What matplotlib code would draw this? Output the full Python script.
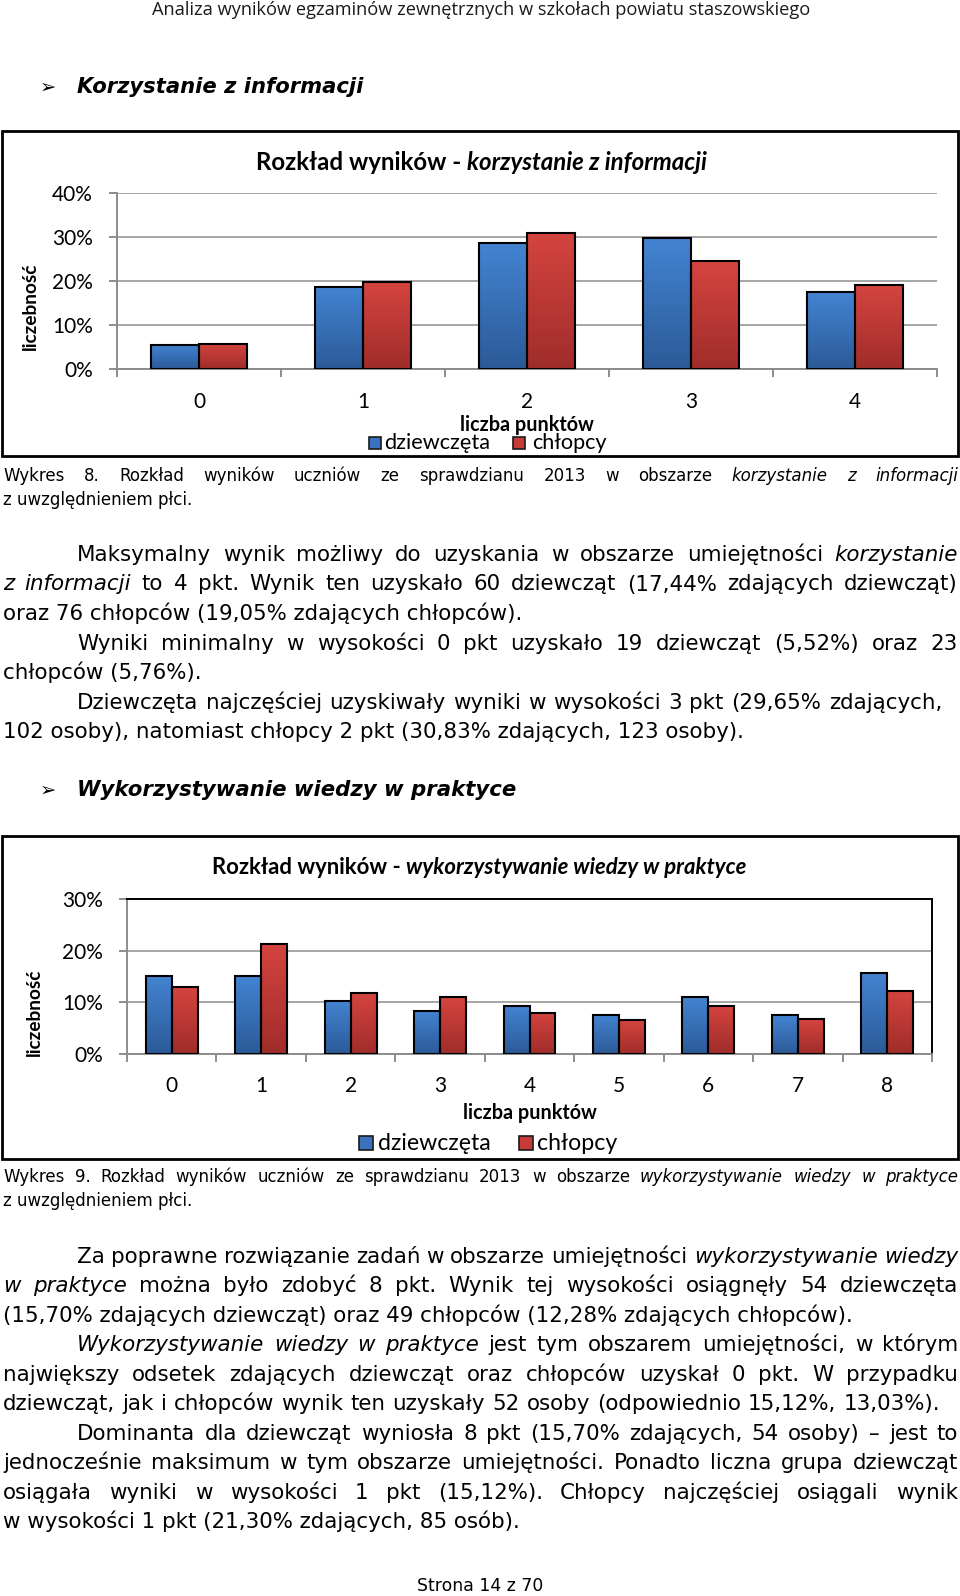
import numpy as np
import matplotlib
matplotlib.use('Agg')
import matplotlib.pyplot as plt
from matplotlib.font_manager import FontProperties
from matplotlib.patches import Rectangle
from matplotlib.colors import LinearSegmentedColormap

# ---------------- data ----------------
points1 = ['0', '1', '2', '3', '4']
girls1 = [5.52, 18.66, 28.7, 29.65, 17.44]
boys1 = [5.76, 19.8, 30.83, 24.5, 19.05]

points2 = ['0', '1', '2', '3', '4', '5', '6', '7', '8']
girls2 = [15.12, 15.12, 10.2, 8.4, 9.3, 7.6, 11.1, 7.5, 15.70]
boys2 = [13.03, 21.30, 11.8, 11.0, 8.0, 6.5, 9.3, 6.7, 12.28]

series_names = ['dziewczęta', 'chłopcy']
yticks1 = ['0%', '10%', '20%', '30%', '40%']
yticks2 = ['0%', '10%', '20%', '30%']
y_label = 'liczebność'
x_label = 'liczba punktów'
title1 = ('Rozkład wyników - ', 'korzystanie z informacji')
title2 = ('Rozkład wyników - ', 'wykorzystywanie wiedzy w praktyce')

header = 'Analiza wyników egzaminów zewnętrznych w szkołach powiatu staszowskiego'
heading1 = 'Korzystanie z informacji'
heading2 = 'Wykorzystywanie wiedzy w praktyce'
footer = 'Strona 14 z 70'

caption1 = [
    [('Wykres 8. Rozkład wyników uczniów ze sprawdzianu 2013 w obszarze ', False),
     ('korzystanie z informacji', True)],
    [('z uwzględnieniem płci.', False)],
]
para1 = [
    [('Maksymalny wynik możliwy do uzyskania w obszarze umiejętności ', False), ('korzystanie', True)],
    [('z informacji', True), (' to 4 pkt. Wynik ten uzyskało 60 dziewcząt (17,44% zdających dziewcząt)', False)],
    [('oraz 76 chłopców (19,05% zdających chłopców).', False)],
    [('Wyniki minimalny w wysokości 0 pkt uzyskało 19 dziewcząt (5,52%) oraz 23', False)],
    [('chłopców (5,76%).', False)],
    [('Dziewczęta najczęściej uzyskiwały wyniki w wysokości 3 pkt (29,65%  zdających,', False)],
    [('102 osoby), natomiast chłopcy 2 pkt (30,83% zdających, 123 osoby).', False)],
]
caption2 = [
    [('Wykres 9. Rozkład wyników uczniów ze sprawdzianu 2013 w obszarze ', False),
     ('wykorzystywanie wiedzy w praktyce', True)],
    [('z uwzględnieniem płci.', False)],
]
para2 = [
    [('Za poprawne rozwiązanie zadań w obszarze umiejętności ', False), ('wykorzystywanie wiedzy', True)],
    [('w praktyce', True), (' można było zdobyć 8 pkt. Wynik tej wysokości osiągnęły 54 dziewczęta', False)],
    [('(15,70% zdających dziewcząt) oraz 49 chłopców (12,28% zdających chłopców).', False)],
    [('Wykorzystywanie wiedzy w praktyce', True), (' jest tym obszarem umiejętności, w którym', False)],
    [('największy odsetek zdających dziewcząt oraz chłopców uzyskał 0 pkt. W przypadku', False)],
    [('dziewcząt, jak i chłopców wynik ten uzyskały 52 osoby (odpowiednio 15,12%, 13,03%).', False)],
    [('Dominanta dla dziewcząt wyniosła 8 pkt (15,70% zdających, 54 osoby) – jest to', False)],
    [('jednocześnie maksimum w tym obszarze umiejętności. Ponadto liczna grupa dziewcząt', False)],
    [('osiągała wyniki w wysokości 1 pkt (15,12%). Chłopcy najczęściej osiągali wynik', False)],
    [('w wysokości 1 pkt (21,30% zdających, 85 osób).', False)],
]

# ---------------- layout ----------------
W, H = 960, 1596
fig = plt.figure(figsize=(W / 100, H / 100), dpi=100)
fig.patch.set_facecolor('white')
r = fig.canvas.get_renderer()

BODY = 'DejaVu Sans'
CHART = 'Lato'


def fp(family=BODY, size=10, italic=False, bold=False):
    return FontProperties(family=family, size=size,
                          style='italic' if italic else 'normal',
                          weight='bold' if bold else 'normal')


def tw(s, prop):
    w, h, d = r.get_text_width_height_descent(s, prop, ismath=False)
    return w


def base_off(prop):
    w, h, d = r.get_text_width_height_descent('lp', prop, ismath=False)
    return h / 2 - d


def fit(s, width, **kw):
    return 10 * width / tw(s, fp(size=10, **kw))


body_size = fit(para1[6][0][0], 742)
cap_size = fit('z uwzględnieniem płci.', 189)

page = fig.add_axes([0, 0, 1, 1], zorder=5)
page.set_xlim(0, W)
page.set_ylim(H, 0)
page.axis('off')
page.patch.set_visible(False)


def draw_line(y, x0, x1, segs, size, family=BODY, color='black'):
    words = []
    for text, it in segs:
        for w in text.split(' '):
            if w:
                words.append((w, it))
    props = {False: fp(family, size), True: fp(family, size, italic=True)}
    yb = y + base_off(props[False])
    if x1 is None and len(segs) == 1:
        page.text(x0, yb, segs[0][0], fontproperties=props[segs[0][1]],
                  ha='left', va='baseline', color=color)
        return
    widths = [tw(w, props[it]) for w, it in words]
    if x1 is None:
        gap = tw('a a', props[False]) - tw('aa', props[False])
    else:
        gap = (x1 - x0 - sum(widths)) / max(len(words) - 1, 1)
    x = x0
    for (w, it), wd in zip(words, widths):
        page.text(x, yb, w, fontproperties=props[it], ha='left', va='baseline', color=color)
        x += wd + gap


# header / footer
hp = fp('Open Sans', fit(header, 660, family='Open Sans'))
page.text(481, 10 + base_off(hp), header, fontproperties=hp,
          ha='center', va='baseline', color='#1a1a1a')
fpp = fp(BODY, fit(footer, 126))
page.text(480, 1586 + base_off(fpp), footer, fontproperties=fpp,
          ha='center', va='baseline', color='black')

# section headings
for y, txt in [(87, heading1), (790, heading2)]:
    page.text(48, y, '➢', fontproperties=fp(BODY, 14), ha='center', va='center')
    s = fit(txt, 287 if txt == heading1 else 438, bold=True, italic=True)
    hpp = fp(BODY, s, italic=True, bold=True)
    page.text(77, y + base_off(hpp), txt, fontproperties=hpp, ha='left', va='baseline')

# captions
draw_line(476, 3, 958, caption1[0], cap_size)
draw_line(500, 3, None, caption1[1], cap_size)
draw_line(1177, 3, 958, caption2[0], cap_size)
draw_line(1200.6, 3, None, caption2[1], cap_size)

# paragraph 1
ys1 = [555, 584.5, 614, 643.6, 673, 702.6, 732]
xs1 = [(77, 958), (3, 958), (3, None), (77, 958), (3, None), (77, 942), (3, None)]
for y, (a, b), segs in zip(ys1, xs1, para1):
    draw_line(y, a, b, segs, body_size)

# paragraph 2
ys2 = [1257, 1286, 1316, 1345, 1375, 1404, 1434, 1463, 1493, 1522]
xs2 = [(77, 958), (3, 958), (3, None), (77, 958), (3, 958), (3, 940),
       (77, 958), (3, 958), (3, 958), (3, None)]
for y, (a, b), segs in zip(ys2, xs2, para2):
    draw_line(y, a, b, segs, body_size)

# chart frames
page.add_patch(Rectangle((1.5, 131), 956.5, 325, fill=False, lw=2, ec='black'))
page.add_patch(Rectangle((1.5, 836), 956.5, 323, fill=False, lw=2, ec='black'))

BLUE = ('#2C5A98', '#4384D2')
RED = ('#A02D2A', '#D5443F')
GRID = '#a6a6a6'
AX = '#8c8c8c'
TICK_SIZE = 15


def chart(rect_px, cats, g, b, ylabels, ymax, boxed, xpad):
    l, t, rr, bt = rect_px
    ax = fig.add_axes([l / W, 1 - bt / H, (rr - l) / W, (bt - t) / H], zorder=2)
    x = np.arange(len(cats))
    bw = 0.29
    for vals, off, cols in [(g, -bw / 2, BLUE), (b, bw / 2, RED)]:
        bc = ax.bar(x + off, vals, bw, facecolor='none', edgecolor='black', lw=1.5, zorder=3)
        cmap = LinearSegmentedColormap.from_list('g', [cols[0], cols[1]])
        grad = np.linspace(0, 1, 100).reshape(-1, 1)
        for p in bc:
            im = ax.imshow(grad, extent=[p.get_x(), p.get_x() + p.get_width(), 0, p.get_height()],
                           origin='lower', aspect='auto', cmap=cmap, zorder=2.5, interpolation='bilinear')
            im.set_clip_path(p)
    ax.set_xlim(-0.5, len(cats) - 0.5)
    ax.set_ylim(0, ymax)
    ax.set_aspect('auto')
    ax.set_yticks(np.arange(0, ymax + 1, 10))
    ax.set_yticklabels(ylabels)
    ax.set_xticks(x)
    ax.set_xticklabels(cats)
    ax.set_xticks(np.arange(len(cats) + 1) - 0.5, minor=True)
    ax.yaxis.grid(True, color=GRID, lw=1.4)
    ax.set_axisbelow(True)
    ax.tick_params(axis='x', which='major', length=0, pad=xpad, labelsize=TICK_SIZE)
    ax.tick_params(axis='x', which='minor', length=6, width=1.4, color=AX)
    ax.tick_params(axis='y', length=6, width=1.4, color=AX, pad=11.5, labelsize=TICK_SIZE)
    for lab in ax.get_xticklabels() + ax.get_yticklabels():
        lab.set_fontfamily(CHART)
    for s in ['left', 'bottom']:
        ax.spines[s].set_color(AX)
        ax.spines[s].set_linewidth(1.4)
    for s in ['top', 'right']:
        if boxed:
            ax.spines[s].set_color('black')
            ax.spines[s].set_linewidth(1.4)
        else:
            ax.spines[s].set_visible(False)
    return ax


chart((117, 192.7, 937, 369), points1, girls1, boys1, yticks1, 40, False, 16.5)
chart((127, 899, 932, 1054), points2, girls2, boys2, yticks2, 30, True, 15.5)


def chart_texts(title, tx0, tw_target, ty, ylx, yly, xlx, xly, leg):
    p1 = title[0].rstrip()
    b10 = fp(CHART, 10, bold=True)
    w10 = tw(p1, b10) + tw('a a', b10) - tw('aa', b10) + \
        tw(title[1], fp(CHART, 10, bold=True, italic=True))
    s = 10 * tw_target / w10
    pr1 = fp(CHART, s, bold=True)
    pr2 = fp(CHART, s, bold=True, italic=True)
    yb = ty + base_off(pr1)
    page.text(tx0, yb, p1, fontproperties=pr1, ha='left', va='baseline')
    x2 = tx0 + tw(p1, pr1) + tw('a a', pr1) - tw('aa', pr1)
    page.text(x2, yb, title[1], fontproperties=pr2, ha='left', va='baseline')
    page.text(ylx, yly, y_label,
              fontproperties=fp(CHART, fit(y_label, 88, family=CHART, bold=True), bold=True),
              rotation=90, ha='center', va='center')
    xp = fp(CHART, fit(x_label, 133, family=CHART, bold=True), bold=True)
    page.text(xlx, xly + base_off(xp), x_label, fontproperties=xp, ha='center', va='baseline')
    (ly, sq, items, txtw) = leg
    lp = fp(CHART, fit(series_names[0], txtw, family=CHART))
    for (sx, tx), name, col in zip(items, series_names, ['#3A72C0', '#C63B37']):
        page.add_patch(Rectangle((sx, ly - sq / 2), sq, sq, fc=col, ec='#1a1a1a', lw=1.2))
        page.text(tx, ly + base_off(lp), name, fontproperties=lp, ha='left', va='baseline')


chart_texts(title1, 256, 449, 163, 30, 306, 527, 425,
            (443, 12, [(369, 384), (513, 532)], 106))
chart_texts(title2, 212, 535, 867, 34, 1012, 530, 1113,
            (1143, 14, [(359, 378), (519, 537)], 113))

fig.savefig('out.png', dpi=100)
